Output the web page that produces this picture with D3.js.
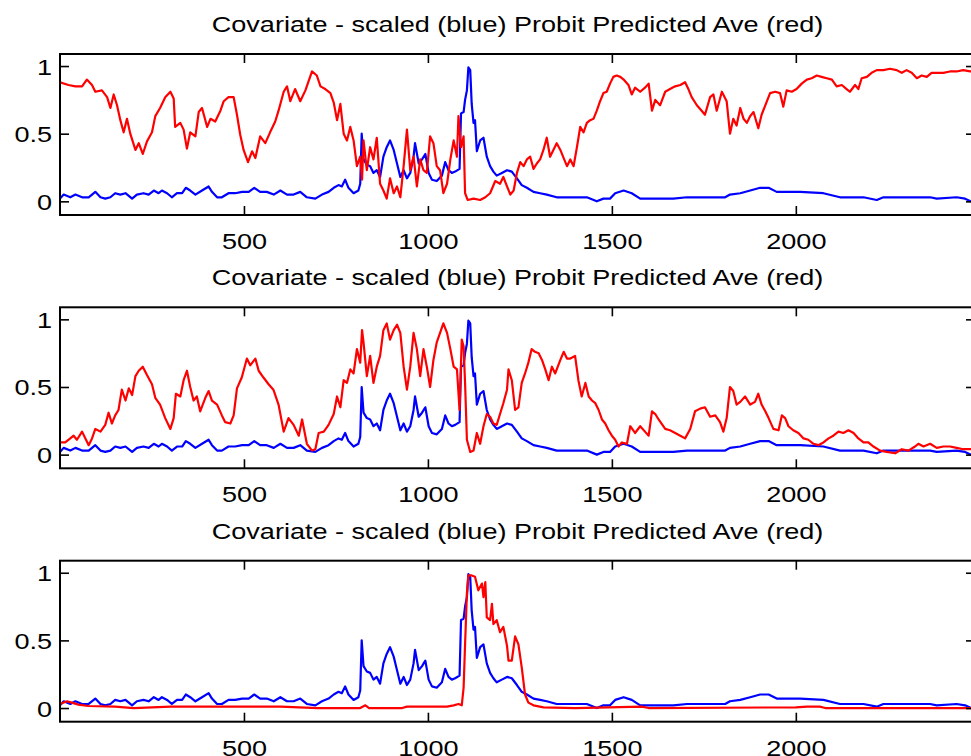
<!DOCTYPE html>
<html>
<head>
<meta charset="utf-8">
<script src="https://cdn.jsdelivr.net/npm/d3@7"></script>
<style>
  body { margin: 0; background: #fff; overflow: hidden; }
  text { font-family: "Liberation Sans", Arial, sans-serif; fill: #000; }
</style>
</head>
<body>
<svg id="fig" width="971" height="756"></svg>
<script>
const titleText = "Covariate - scaled (blue) Probit Predicted Ave (red)";
const xTicks = [500, 1000, 1500, 2000];
const yTicks = [0, 0.5, 1];

// covariate (scaled) - same curve in every panel
const blueX = [0,10,28,42,60,78,96,110,123,137,150,164,178,196,209,227,241,255,268,277,291,304,318,332,342,354,368,386,404,413,427,440,458,476,495,513,528,544,562,581,599,617,635,653,671,694,712,730,744,757,766,775,784,798,811,816,820,825,834,843,852,861,870,879,888,897,907,916,925,934,943,952,961,965,975,984,993,1002,1011,1024,1038,1047,1056,1065,1074,1086,1090,1097,1101,1106,1110,1115,1119,1124,1128,1133,1142,1151,1160,1169,1178,1187,1201,1215,1228,1242,1255,1269,1287,1305,1323,1350,1405,1432,1459,1477,1495,1509,1532,1554,1577,1631,1667,1704,1808,1821,1849,1876,1903,1926,1948,2012,2075,2120,2184,2220,2238,2365,2383,2437,2460,2476,2490];
const blueY = [0.02,0.05,0.03,0.05,0.03,0.03,0.07,0.03,0.02,0.03,0.06,0.05,0.06,0.02,0.05,0.06,0.05,0.08,0.06,0.08,0.06,0.03,0.06,0.06,0.10,0.08,0.05,0.08,0.11,0.07,0.03,0.03,0.06,0.06,0.07,0.07,0.10,0.07,0.07,0.05,0.08,0.05,0.05,0.07,0.03,0.02,0.05,0.07,0.10,0.12,0.11,0.16,0.10,0.06,0.08,0.13,0.50,0.31,0.27,0.26,0.21,0.23,0.18,0.33,0.40,0.45,0.38,0.28,0.18,0.23,0.17,0.21,0.33,0.43,0.28,0.31,0.35,0.21,0.16,0.15,0.19,0.29,0.23,0.21,0.22,0.24,0.65,0.66,0.75,0.82,0.99,0.97,0.72,0.58,0.60,0.37,0.45,0.47,0.33,0.26,0.22,0.19,0.21,0.23,0.22,0.17,0.12,0.10,0.07,0.06,0.05,0.03,0.03,0.03,0.00,0.02,0.02,0.06,0.08,0.06,0.02,0.02,0.02,0.03,0.03,0.05,0.06,0.08,0.10,0.10,0.07,0.07,0.06,0.03,0.03,0.01,0.03,0.03,0.02,0.03,0.02,0.00,0.00];

// probit predicted average, panel 1
const red1X = [0,23,42,60,73,87,96,114,128,137,146,155,164,173,182,191,205,214,225,236,250,259,272,286,300,309,313,327,336,345,354,368,377,386,400,409,422,436,445,458,472,481,490,499,511,522,531,544,558,571,585,594,608,617,626,639,653,667,685,698,708,721,735,744,753,762,771,780,789,798,807,816,821,825,834,843,852,861,870,879,888,897,907,916,925,934,943,952,961,970,979,988,997,1006,1015,1024,1033,1042,1052,1061,1070,1079,1083,1090,1097,1101,1108,1124,1142,1156,1169,1183,1196,1205,1215,1224,1233,1242,1251,1260,1269,1278,1287,1296,1305,1314,1323,1332,1341,1350,1360,1369,1378,1387,1396,1405,1414,1423,1432,1441,1450,1459,1468,1477,1486,1495,1504,1513,1523,1532,1545,1554,1563,1577,1590,1600,1609,1618,1631,1645,1658,1672,1686,1699,1708,1717,1731,1744,1753,1767,1776,1785,1799,1812,1821,1830,1839,1849,1858,1867,1876,1885,1898,1907,1917,1930,1944,1957,1966,1975,1989,2002,2016,2030,2043,2057,2070,2084,2098,2111,2125,2138,2147,2161,2170,2179,2193,2206,2220,2238,2256,2274,2288,2301,2315,2329,2342,2356,2369,2383,2401,2419,2437,2455,2474,2490];
const red1Y = [0.88,0.86,0.85,0.85,0.90,0.86,0.81,0.82,0.77,0.69,0.79,0.71,0.60,0.51,0.61,0.50,0.38,0.43,0.35,0.44,0.51,0.63,0.69,0.77,0.81,0.76,0.55,0.58,0.53,0.39,0.51,0.48,0.66,0.69,0.55,0.61,0.59,0.67,0.74,0.77,0.77,0.64,0.49,0.38,0.29,0.37,0.32,0.48,0.43,0.51,0.59,0.67,0.81,0.85,0.74,0.83,0.74,0.82,0.96,0.93,0.85,0.83,0.80,0.73,0.60,0.72,0.50,0.45,0.55,0.45,0.26,0.33,0.16,0.45,0.23,0.40,0.31,0.47,0.13,0.08,0.02,0.17,0.06,0.11,0.03,0.26,0.53,0.23,0.33,0.11,0.31,0.23,0.21,0.48,0.43,0.26,0.23,0.06,0.13,0.31,0.45,0.33,0.63,0.40,0.48,0.06,0.01,0.02,0.01,0.03,0.06,0.15,0.13,0.18,0.11,0.05,0.08,0.21,0.29,0.26,0.31,0.33,0.24,0.28,0.31,0.38,0.47,0.33,0.38,0.43,0.38,0.32,0.26,0.31,0.26,0.40,0.55,0.51,0.58,0.60,0.61,0.67,0.74,0.80,0.81,0.87,0.92,0.93,0.92,0.90,0.86,0.79,0.84,0.81,0.84,0.87,0.67,0.75,0.71,0.81,0.83,0.85,0.86,0.88,0.83,0.77,0.71,0.67,0.64,0.77,0.79,0.67,0.81,0.74,0.50,0.61,0.56,0.69,0.61,0.58,0.63,0.66,0.54,0.64,0.71,0.80,0.81,0.80,0.70,0.82,0.81,0.83,0.87,0.90,0.91,0.93,0.92,0.91,0.90,0.85,0.86,0.83,0.81,0.86,0.83,0.91,0.92,0.95,0.97,0.97,0.98,0.97,0.95,0.97,0.95,0.91,0.93,0.92,0.95,0.95,0.95,0.96,0.96,0.97,0.96,0.97];

// probit predicted average, panel 2
const red2X = [0,14,28,37,46,60,69,78,87,96,110,123,132,141,150,159,168,178,187,196,205,214,225,236,250,259,272,286,300,309,315,327,336,345,354,363,372,381,395,404,413,427,440,449,463,472,481,494,508,517,531,540,553,567,580,594,608,621,635,649,658,671,685,694,703,717,730,744,753,762,771,780,789,798,807,816,821,825,834,843,852,861,870,879,888,897,907,916,925,934,943,952,961,970,979,988,997,1006,1015,1024,1033,1042,1052,1061,1070,1079,1086,1092,1097,1101,1106,1115,1124,1133,1142,1151,1160,1169,1178,1187,1196,1205,1215,1219,1228,1237,1246,1255,1264,1273,1282,1291,1301,1310,1319,1328,1337,1346,1360,1369,1378,1387,1400,1409,1418,1428,1437,1446,1455,1464,1473,1482,1491,1500,1509,1518,1527,1541,1550,1563,1577,1590,1600,1609,1618,1627,1645,1658,1672,1686,1699,1713,1726,1740,1753,1767,1781,1794,1803,1812,1821,1830,1839,1849,1862,1876,1889,1898,1907,1917,1926,1939,1953,1962,1971,1980,1993,2007,2021,2034,2048,2061,2075,2089,2102,2116,2129,2143,2157,2170,2184,2197,2211,2229,2247,2270,2288,2306,2324,2333,2347,2365,2383,2401,2419,2437,2455,2474,2490];
const red2Y = [0.09,0.09,0.12,0.14,0.11,0.17,0.12,0.07,0.12,0.19,0.17,0.22,0.31,0.23,0.29,0.33,0.48,0.40,0.49,0.44,0.58,0.62,0.65,0.59,0.52,0.42,0.37,0.27,0.19,0.27,0.45,0.43,0.55,0.62,0.50,0.40,0.43,0.32,0.42,0.47,0.40,0.37,0.29,0.24,0.23,0.29,0.49,0.57,0.71,0.66,0.71,0.62,0.57,0.52,0.48,0.37,0.17,0.27,0.22,0.14,0.26,0.08,0.03,0.04,0.16,0.17,0.22,0.30,0.43,0.35,0.55,0.53,0.63,0.60,0.78,0.68,0.92,0.83,0.58,0.73,0.53,0.65,0.73,0.92,0.97,0.85,0.92,0.96,0.90,0.65,0.48,0.65,0.90,0.78,0.58,0.78,0.65,0.50,0.70,0.83,0.90,0.97,0.90,0.78,0.65,0.63,0.33,0.85,0.80,0.53,0.11,0.02,0.03,0.16,0.08,0.21,0.30,0.28,0.23,0.22,0.30,0.38,0.48,0.63,0.55,0.33,0.35,0.53,0.60,0.68,0.78,0.76,0.75,0.70,0.63,0.55,0.65,0.60,0.70,0.76,0.71,0.71,0.73,0.55,0.43,0.53,0.43,0.40,0.38,0.33,0.26,0.23,0.18,0.14,0.11,0.06,0.09,0.08,0.21,0.16,0.21,0.17,0.14,0.32,0.30,0.26,0.19,0.18,0.16,0.14,0.12,0.19,0.32,0.34,0.35,0.28,0.29,0.24,0.17,0.27,0.50,0.47,0.37,0.39,0.43,0.37,0.39,0.45,0.37,0.32,0.27,0.19,0.18,0.29,0.27,0.21,0.18,0.16,0.12,0.11,0.08,0.07,0.09,0.12,0.14,0.17,0.16,0.18,0.16,0.12,0.09,0.09,0.06,0.03,0.02,0.01,0.04,0.03,0.06,0.08,0.06,0.08,0.05,0.06,0.06,0.05,0.04,0.04,0.04];

// probit predicted average, panel 3
const red3X = [0,19,32,50,77,150,200,300,400,500,600,700,816,830,840,930,943,988,1052,1070,1083,1092,1097,1101,1106,1110,1119,1128,1137,1147,1151,1156,1160,1169,1174,1178,1187,1196,1205,1215,1219,1228,1237,1246,1255,1264,1273,1287,1314,1400,1581,1600,2000,2030,2065,2080,2490];
const red3Y = [0.03,0.05,0.04,0.025,0.015,0.01,0.0,0.01,0.01,0.01,0.01,0.0,0.0,0.02,0.0,0.0,0.01,0.01,0.01,0.02,0.03,0.02,0.15,0.47,0.85,0.98,0.98,0.97,0.87,0.92,0.82,0.93,0.67,0.65,0.77,0.62,0.65,0.56,0.60,0.46,0.35,0.35,0.53,0.47,0.30,0.10,0.04,0.02,0.005,0.0,0.01,0.0,0.005,0.01,0.01,0.0,0.0];

const redSeries = [[red1X, red1Y], [red2X, red2Y], [red3X, red3Y]];

const svg = d3.select("#fig");
const left = 60, right = 975, ph = 161;
const tops = [54, 307.3, 560.7];
const sx = 1.23; // glyphs in the picture are stretched horizontally
const tickLen = 9;

const x = d3.scaleLinear().domain([0, 2487]).range([left, right]);

const zip = (xs, ys) => xs.map((v, i) => [v, ys[i]]);

tops.forEach((top, i) => {
  const y = d3.scaleLinear().domain([-0.101, 1.089]).range([top + ph, top]);
  const g = svg.append("g");

  g.append("clipPath").attr("id", "clip" + i)
    .append("rect").attr("x", left).attr("y", top).attr("width", right - left).attr("height", ph);

  const line = d3.line().x(d => x(d[0])).y(d => y(d[1]));
  const plot = g.append("g").attr("clip-path", `url(#clip${i})`);
  plot.append("path").datum(zip(blueX, blueY))
    .attr("fill", "none").attr("stroke", "#0000ff").attr("stroke-width", 2.2)
    .attr("stroke-linejoin", "round").attr("d", line);
  plot.append("path").datum(zip(redSeries[i][0], redSeries[i][1]))
    .attr("fill", "none").attr("stroke", "#ff0000").attr("stroke-width", 2.2)
    .attr("stroke-linejoin", "round").attr("d", line);

  // axes with inward ticks
  const bottom = g.append("g").attr("transform", `translate(0,${top + ph})`)
    .call(d3.axisBottom(x).tickValues(xTicks).tickSizeInner(-tickLen).tickSizeOuter(0).tickFormat(d3.format("d")));
  bottom.selectAll("text").attr("y", 34).attr("dy", 0)
    .attr("transform", `scale(${sx},1)`).style("font-size", "22px");
  g.append("g").attr("transform", `translate(0,${top})`)
    .call(d3.axisTop(x).tickValues(xTicks).tickSizeInner(-tickLen).tickSizeOuter(0).tickFormat(""));
  const leftAx = g.append("g").attr("transform", `translate(${left},0)`)
    .call(d3.axisLeft(y).tickValues(yTicks).tickSizeInner(-tickLen).tickSizeOuter(0).tickFormat(d3.format("")));
  leftAx.selectAll("text").attr("x", -8 / sx).attr("dy", 0).attr("y", 8)
    .attr("transform", `scale(${sx},1)`).style("font-size", "22px");
  g.append("g").attr("transform", `translate(${right},0)`)
    .call(d3.axisRight(y).tickValues(yTicks).tickSizeInner(-tickLen).tickSizeOuter(0).tickFormat(""));

  g.selectAll(".domain").remove();
  g.selectAll(".tick line").attr("stroke", "#000").attr("stroke-width", 1.6);
  g.selectAll(".tick text").attr("font-family", null);

  g.append("rect").attr("x", left).attr("y", top).attr("width", right - left).attr("height", ph)
    .attr("fill", "none").attr("stroke", "#000").attr("stroke-width", 2);

  g.append("text")
    .attr("transform", `translate(${(left + right) / 2},${top - 22}) scale(${sx},1)`)
    .attr("text-anchor", "middle").style("font-size", "22px")
    .text(titleText);
});
</script>
</body>
</html>
